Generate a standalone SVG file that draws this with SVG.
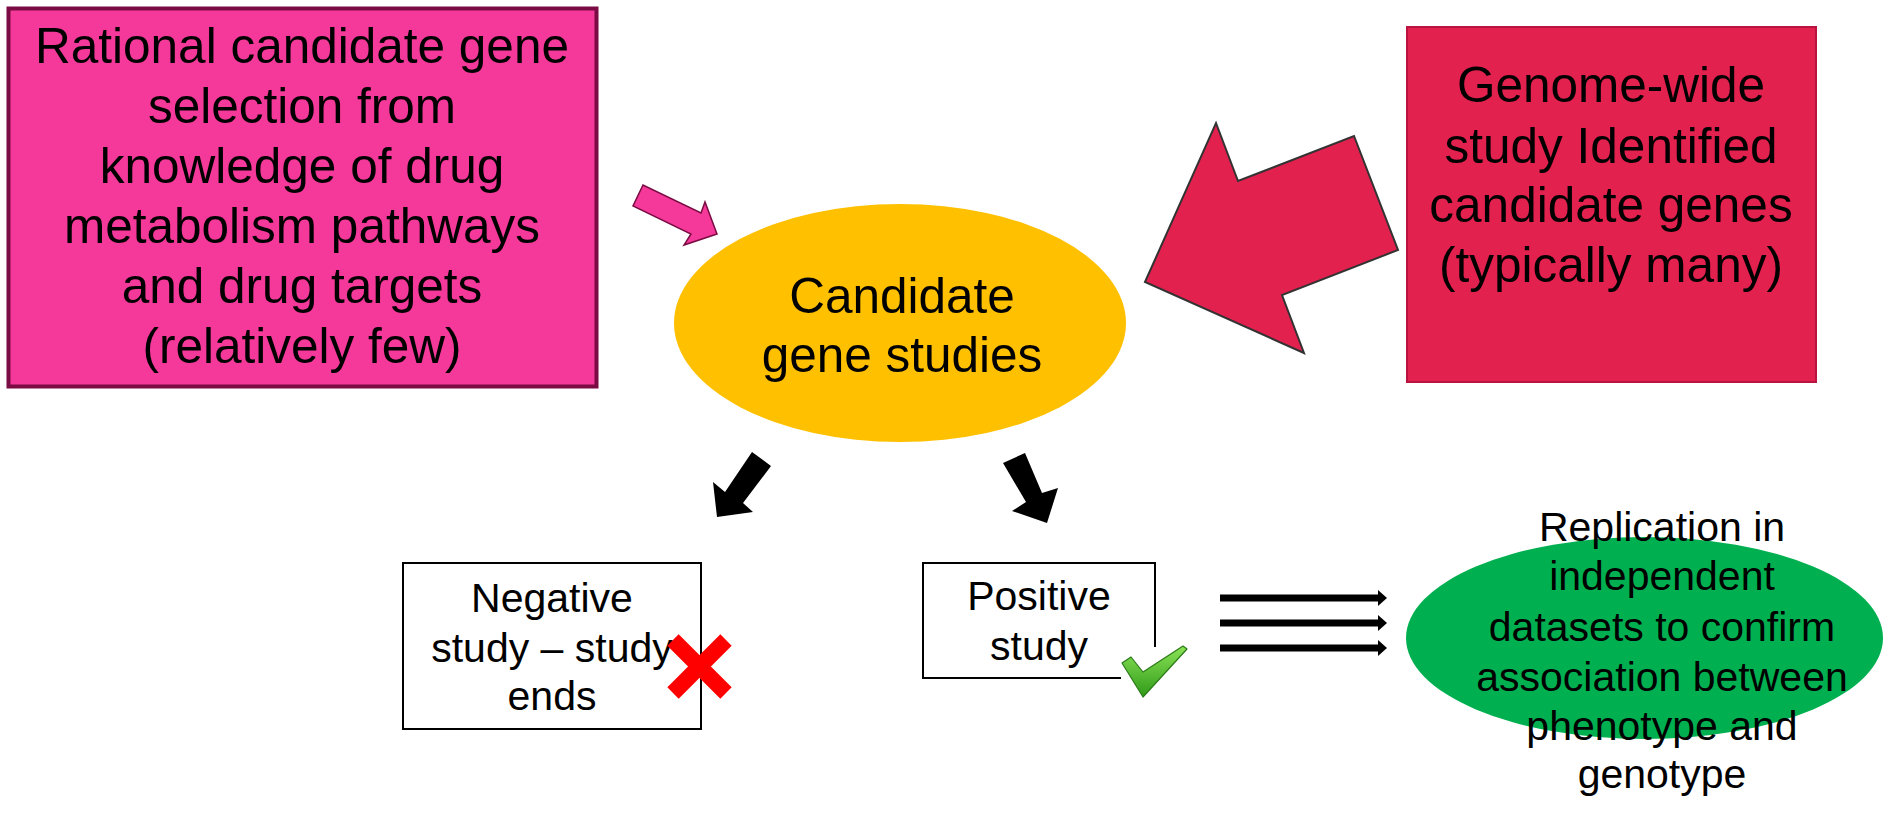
<svg xmlns="http://www.w3.org/2000/svg" width="1889" height="827" viewBox="0 0 1889 827">
<style>
text{font-family:"Liberation Sans",Arial,sans-serif;fill:#000;text-anchor:middle}
.big{font-size:49.5px}
.mid{font-size:41px}
.blk{fill:#000;stroke:none}
.tri{stroke:#000;stroke-width:7;fill:none}
</style>
<defs>
<marker id="ah" markerUnits="userSpaceOnUse" markerWidth="12" markerHeight="18" refX="0" refY="8" orient="auto" viewBox="0 0 12 18">
<path d="M0,0 L9,8 L0,16 Z" fill="#000"/>
</marker>
<linearGradient id="chk" x1="0" y1="0" x2="0" y2="1">
<stop offset="0" stop-color="#8BE356"/>
<stop offset="1" stop-color="#2F9A19"/>
</linearGradient>
</defs>
<rect width="1889" height="827" fill="#fff"/>
<g id="rational">
<rect x="8.5" y="8.5" width="588" height="378" fill="#F4399A" stroke="#7B0B43" stroke-width="4"/>
<text class="big" x="302" y="63">Rational candidate gene</text>
<text class="big" x="302" y="123">selection from</text>
<text class="big" x="302" y="183">knowledge of drug</text>
<text class="big" x="302" y="243">metabolism pathways</text>
<text class="big" x="302" y="303">and drug targets</text>
<text class="big" x="302" y="363">(relatively few)</text>
</g>
<g id="genome">
<rect x="1407" y="27" width="409" height="355" fill="#E3214F" stroke="#B8143F" stroke-width="2"/>
<text class="big" x="1611" y="102">Genome-wide</text>
<text class="big" x="1611" y="163">study Identified</text>
<text class="big" x="1611" y="222">candidate genes</text>
<text class="big" x="1611" y="282">(typically many)</text>
</g>
<g id="candidate">
<ellipse cx="900" cy="323" rx="226" ry="119" fill="#FFC000"/>
<text class="big" x="902" y="313">Candidate</text>
<text class="big" x="902" y="372">gene studies</text>
</g>
<g id="negative">
<rect x="403" y="563" width="298" height="166" fill="#fff" stroke="#000" stroke-width="2"/>
<text class="mid" x="552" y="612">Negative</text>
<text class="mid" x="552" y="662">study – study</text>
<text class="mid" x="552" y="710">ends</text>
<path d="M673,640 L726,693 M726,640 L673,693" stroke="#FF0000" stroke-width="16" fill="none"/>
</g>
<g id="positive">
<rect x="923" y="563" width="232" height="115" fill="#fff" stroke="#000" stroke-width="2"/>
<rect x="1121" y="647" width="40" height="40" fill="#fff"/>
<text class="mid" x="1039" y="610">Positive</text>
<text class="mid" x="1039" y="660">study</text>
<path d="M1122,663 L1131,657 L1143,672 L1183,646 L1187,649 L1143,697 Z" fill="url(#chk)" stroke="#2B7A18" stroke-width="1.2" stroke-linejoin="round"/>
</g>
<g id="replication">
<ellipse cx="1644.5" cy="638" rx="238.5" ry="101" fill="#00B050"/>
<text class="mid" x="1662" y="541">Replication in</text>
<text class="mid" x="1662" y="590">independent</text>
<text class="mid" x="1662" y="641">datasets to confirm</text>
<text class="mid" x="1662" y="691">association between</text>
<text class="mid" x="1662" y="740">phenotype and</text>
<text class="mid" x="1662" y="788">genotype</text>
</g>
<g id="connectors">
<polygon points="643,185 633,206 691,234 684,245 717,234 705,202 701,213" fill="#F4399A" stroke="#7B0B43" stroke-width="1.5" stroke-linejoin="miter"/>
<polygon points="1145,282 1216,123 1238,181 1354,136 1398,250 1282,295 1304,353" fill="#E3214F" stroke="#333" stroke-width="2"/>
<polygon class="blk" points="752,452 771,466 743,503 753,512 717,517 713,482 725,492"/>
<polygon class="blk" points="1003,463 1025,453 1042,493 1058,488 1047,523 1012,511 1026,502"/>
<line class="tri" x1="1220" y1="598" x2="1378" y2="598" marker-end="url(#ah)"/>
<line class="tri" x1="1220" y1="623" x2="1378" y2="623" marker-end="url(#ah)"/>
<line class="tri" x1="1220" y1="648" x2="1378" y2="648" marker-end="url(#ah)"/>
</g>
</svg>
